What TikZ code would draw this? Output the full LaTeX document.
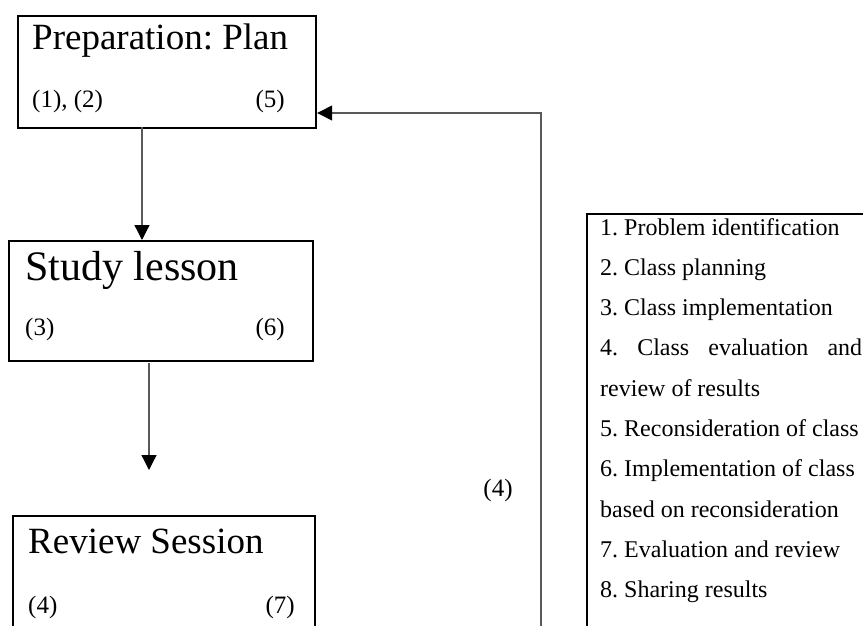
\documentclass[tikz,border=0pt]{standalone}
\usepackage{fontspec}
\setmainfont{Liberation Serif}
\usetikzlibrary{arrows.meta}
\frenchspacing

\tikzset{
  stagebox/.style={draw,line width=2.2pt,anchor=north west,inner sep=0pt},
  stagetitle/.style={anchor=base west,inner sep=0pt},
  stagenum/.style={inner sep=0pt,font=\fontsize{25}{30}\selectfont},
  stepline/.style={anchor=base west,inner sep=0pt,font=\fontsize{24}{29}\selectfont},
  flow/.style={black!65,line width=1.3pt,-{Triangle[length=15pt,width=15pt,black]}}
}

\begin{document}
\begin{tikzpicture}[x=1pt,y=-1pt]
\useasboundingbox (0,0) rectangle (863,626);
\clip (0,0) rectangle (863,626);
% the three stages
\node[stagebox,minimum width=298pt,minimum height=112pt] (plan) at (17,15) {};
\node[stagetitle,font=\fontsize{37}{44}\selectfont] (plantitle) at (32,50) {Preparation: Plan};
\node[stagenum,anchor=base west] (planleft) at (32,108) {(1), (2)};
\node[stagenum,anchor=base east] (planright) at (285,108) {(5)};

\node[stagebox,minimum width=304pt,minimum height=120pt] (study) at (8,240) {};
\node[stagetitle,font=\fontsize{42}{50}\selectfont] (studytitle) at (25,280) {Study lesson};
\node[stagenum,anchor=base west] (studyleft) at (25,335) {(3)};
\node[stagenum,anchor=base east] (studyright) at (285,335) {(6)};

\node[stagebox,minimum width=302pt,minimum height=140pt] (review) at (12,515) {};
\node[stagetitle,font=\fontsize{37}{44}\selectfont] (reviewtitle) at (28,553) {Review Session};
\node[stagenum,anchor=base west] (reviewleft) at (28,613) {(4)};
\node[stagenum,anchor=base east] (reviewright) at (295,613) {(7)};

% arrows between stages
\coordinate (drop1) at (142,127);
\draw[flow] (drop1) -- (drop1 |- study.north);
\coordinate (drop2) at (149,363);
\coordinate (drop2end) at (149,470);
\draw[flow] (drop2) -- (drop2end);

% way back to the plan
\coordinate (loopstart) at (541,640);
\coordinate (loopturn) at (541,113);
\draw[flow] (loopstart) -- (loopturn) -- (loopturn -| plan.east);
\node[stagenum] (back) at (498,490) {(4)};

% list of steps
\node[draw,line width=2pt,anchor=north west,inner sep=0pt,minimum width=300pt,minimum height=440pt] (steps) at (586,213) {};
\foreach \txt [count=\i from 0] in {1. Problem identification,2. Class planning,3. Class implementation,{\makebox[262pt][s]{4. Class evaluation and}},review of results,5. Reconsideration of class,6. Implementation of class,based on reconsideration,7. Evaluation and review,8. Sharing results}
  \node[stepline] (step\i) at (600,235+40.3*\i) {\txt};
\end{tikzpicture}
\end{document}
